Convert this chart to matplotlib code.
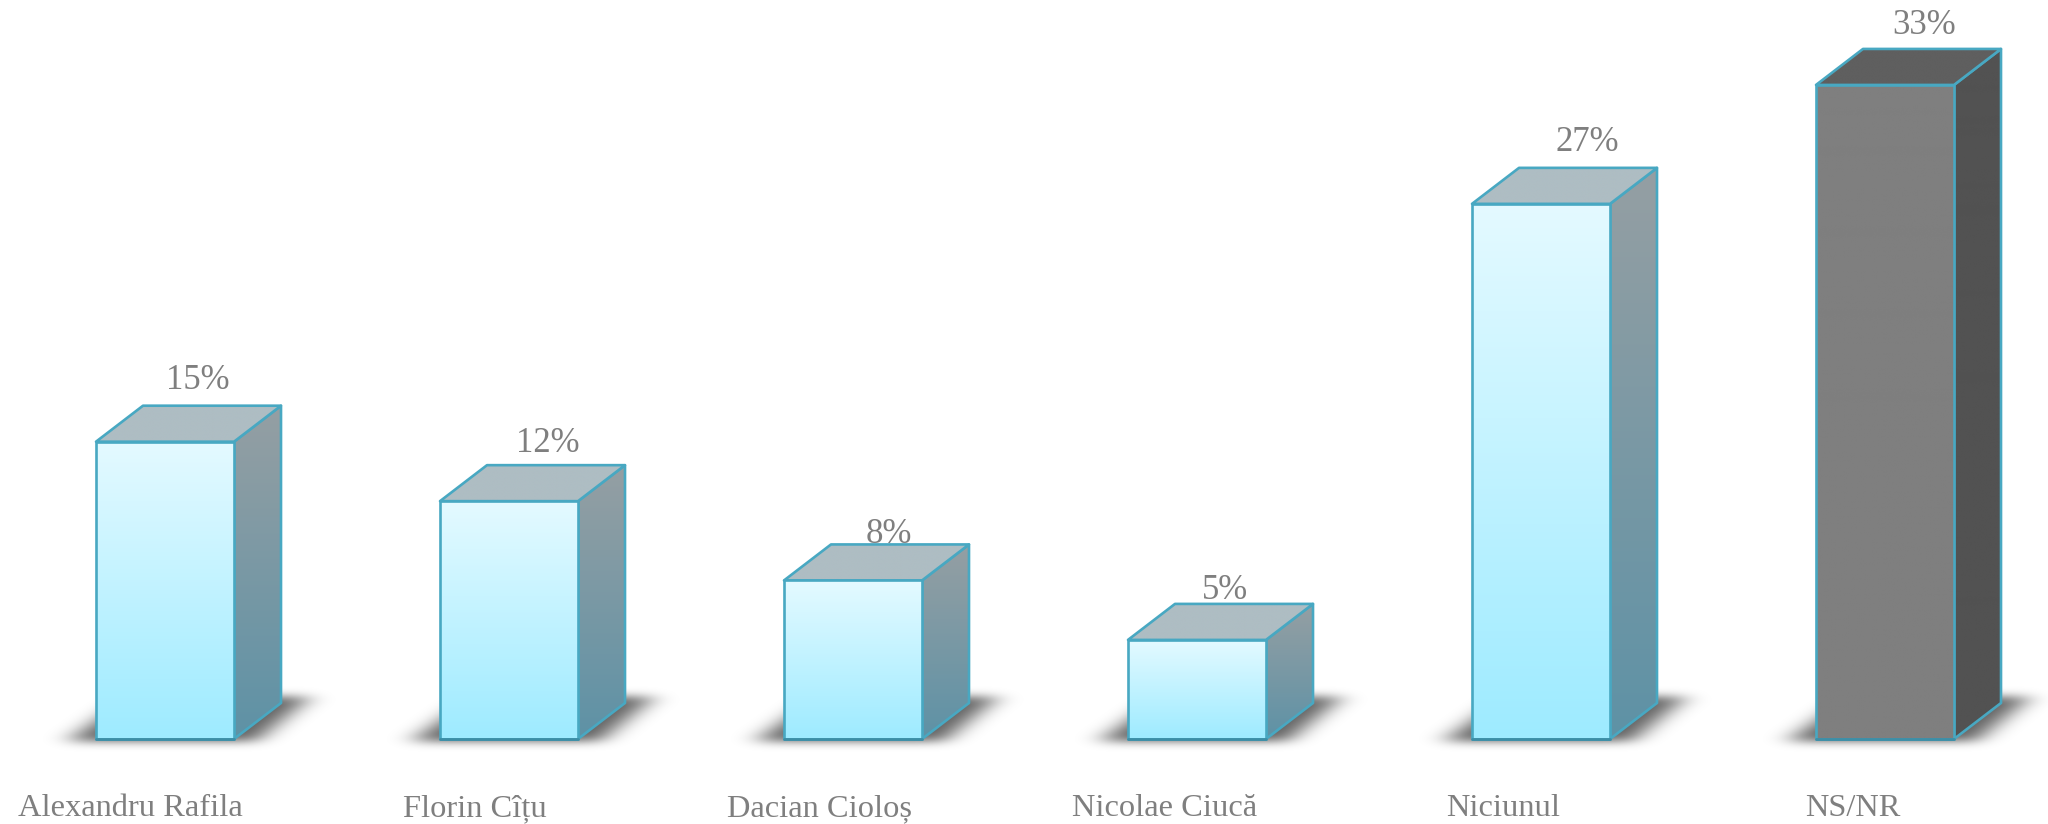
import numpy as np
import matplotlib
matplotlib.use("Agg")
import matplotlib.pyplot as plt
from matplotlib.patches import Polygon
from matplotlib.path import Path
from matplotlib.colors import to_rgb

categories = ["Alexandru Rafila", "Florin Cîțu", "Dacian Cioloș", "Nicolae Ciucă", "Niciunul", "NS/NR"]
values = [15, 12, 8, 5, 27, 33]
value_labels = ["15%", "12%", "8%", "5%", "27%", "33%"]

W, H = 2048, 824
PX_X = 344.0      # pixels per category
PX_Y = 19.82      # pixels per percentage point
X0 = 165.0        # pixel of first category centre
Y0 = 739.0        # pixel of value 0
BAR_W = 138 / PX_X
DX = 47 / PX_X
DY = 36 / PX_Y

# label placement relative to each bar (pixels)
label_left = [18, 403, 727, 1072, 1446, 1805]
label_y = 809
val_dx = [33, 39, 36, 28, 46, 39]
val_dy = [-25, -22, -10, -13, -25, -23]

STYLE_LIGHT = dict(front=("#e4faff", "#9eebff"), side=("#959fa3", "#5e92a6"), top=("#aebdc3", "#aebdc3"))
STYLE_DARK = dict(front=("#7f7f7f", "#7f7f7f"), side=("#525252", "#525252"), top=("#5f5f5f", "#5f5f5f"))
EDGE = "#48a8c2"
TEXT = "#7f7f7f"

plt.rcParams["font.family"] = ["Liberation Serif", "DejaVu Serif"]
fig = plt.figure(figsize=(W / 100, H / 100), dpi=100, facecolor="white")
ax = fig.add_axes([0, 0, 1, 1])


def xd(px):
    return (px - X0) / PX_X


def yd(py):
    return (Y0 - py) / PX_Y


def gauss(sigma):
    r = int(3 * sigma)
    k = np.exp(-0.5 * (np.arange(-r, r + 1) / sigma) ** 2)
    return k / k.sum()


def shadow(i):
    # soft floor shadow, computed on a pixel grid and placed through the data scale
    left = X0 + PX_X * i - 69
    x = np.arange(left - 90, left + 320)
    y = np.arange(660, 780)
    xx, yy = np.meshgrid(x, y)
    poly = Path([(left - 28, 741), (left + 160, 741), (left + 215, 696), (left + 35, 696)])
    m = poly.contains_points(np.c_[xx.ravel(), yy.ravel()]).reshape(xx.shape).astype(float)
    kx, ky = gauss(13), gauss(4.5)
    m = np.apply_along_axis(lambda v: np.convolve(v, kx, mode="same"), 1, m)
    m = np.apply_along_axis(lambda v: np.convolve(v, ky, mode="same"), 0, m)
    img = np.zeros(m.shape + (4,))
    img[..., 3] = m * 0.62
    ax.imshow(img, extent=[xd(x[0]), xd(x[-1]), yd(y[-1]), yd(y[0])], aspect="auto",
              origin="upper", zorder=0.5, interpolation="bilinear")


def face(corners, colors, zorder):
    pts = np.array(corners)
    c0, c1 = np.array(to_rgb(colors[0])), np.array(to_rgb(colors[1]))
    t = np.linspace(0, 1, 128)[:, None, None]
    img = c0[None, None, :] * (1 - t) + c1[None, None, :] * t
    im = ax.imshow(img, extent=[pts[:, 0].min(), pts[:, 0].max(), pts[:, 1].min(), pts[:, 1].max()],
                   aspect="auto", origin="upper", zorder=zorder, interpolation="bilinear")
    patch = Polygon(pts, closed=True, facecolor="none", edgecolor=EDGE, linewidth=1.9,
                    joinstyle="round", zorder=zorder + 0.1)
    ax.add_patch(patch)
    im.set_clip_path(patch)


for i, (name, v) in enumerate(zip(categories, values)):
    style = STYLE_DARK if name == "NS/NR" else STYLE_LIGHT
    shadow(i)
    l, r = i - BAR_W / 2, i + BAR_W / 2
    face([(r, 0), (r + DX, DY), (r + DX, v + DY), (r, v)], style["side"], 2)
    face([(l, v), (r, v), (r + DX, v + DY), (l + DX, v + DY)], style["top"], 2.2)
    face([(l, 0), (r, 0), (r, v), (l, v)], style["front"], 2.4)
    ax.plot([l, r], [0, 0], color="#3d8ea6", lw=2.0, solid_capstyle="round", zorder=2.7)
    ax.text(i + val_dx[i] / PX_X, v + DY - val_dy[i] / PX_Y, value_labels[i],
            ha="center", va="center", fontsize=25, color=TEXT, zorder=1)
    ax.text(xd(label_left[i]), yd(label_y), name, ha="left", va="center",
            fontsize=23.4, color=TEXT, zorder=3)

ax.set_xlim(xd(0), xd(W))
ax.set_ylim(yd(H), yd(0))
ax.axis("off")
fig.savefig("out.png", dpi=100, facecolor="white")
